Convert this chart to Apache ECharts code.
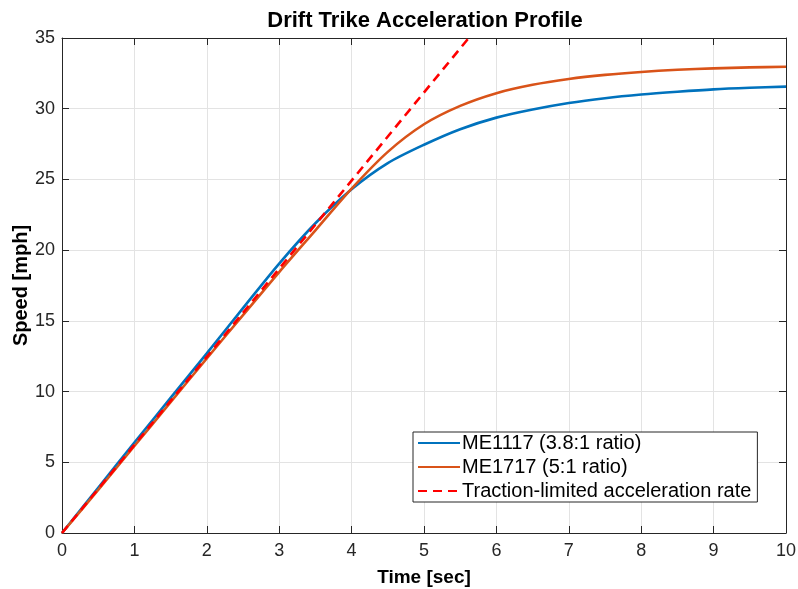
<!DOCTYPE html>
<html>
<head>
<meta charset="utf-8">
<script src="https://cdn.jsdelivr.net/npm/echarts@6/dist/echarts.min.js"></script>
<style>html,body{margin:0;padding:0;background:#fff}#c{width:798px;height:589px}</style>
</head>
<body>
<div id="c"></div>
<script>
const timeSec = [0,0.5,1,1.5,2,2.5,3,3.5,4,4.5,5,5.5,6,6.5,7,7.5,8,8.5,9,9.5,10];
const me1117 = [0,3.2,6.4,9.55,12.7,15.9,19.05,21.9,24.3,26.15,27.45,28.55,29.37,29.94,30.4,30.74,31.0,31.2,31.37,31.48,31.56];
const me1717 = [0,3.05,6.15,9.25,12.35,15.4,18.45,21.4,24.35,26.95,28.9,30.2,31.1,31.69,32.1,32.39,32.6,32.75,32.85,32.92,32.97];
const tractionTime = [0,10];
const tractionSpeed = [0,62.3];
const seriesNames = ['ME1117 (3.8:1 ratio)','ME1717 (5:1 ratio)','Traction-limited acceleration rate'];
const titleText = 'Drift Trike Acceleration Profile';
const xName = 'Time [sec]';
const yName = 'Speed [mph]';

const font = 'Liberation Sans, Arial, Helvetica, sans-serif';
const axisCol = '#262626';
const gridCol = '#e3e3e3';
const zip = (a,b) => a.map((v,i)=>[v,b[i]]);

const chart = echarts.init(document.getElementById('c'), null, {renderer:'canvas'});
const baseX = {type:'value', min:0, max:10, interval:1};
const baseY = {type:'value', min:0, max:35, interval:5};
chart.setOption({
  animation:false,
  backgroundColor:'#fff',
  title:{text:titleText, left:420, top:5, textAlign:'center',
    textStyle:{fontFamily:font, fontSize:22, fontWeight:'bold', color:'#000'}},
  grid:{left:62, right:12, top:38, bottom:56, containLabel:false, outerBoundsMode:'none'},
  legend:{
    orient:'vertical', left:413, top:432, width:340,
    itemWidth:42, itemHeight:14, itemGap:4,
    itemStyle:{opacity:0},
    padding:[1,6,1,4],
    borderColor:axisCol, borderWidth:1, backgroundColor:'#fff',
    textStyle:{fontFamily:font, fontSize:20, color:'#000', padding:[0,0,0,-3]},
    data:seriesNames
  },
  xAxis:[
    Object.assign({}, baseX, {position:'bottom', name:xName, nameLocation:'middle', nameGap:35,
      nameMoveOverlap:false,
      nameTextStyle:{fontFamily:font, fontSize:19, fontWeight:'bold', color:'#000'},
      axisLine:{show:true, onZero:false, lineStyle:{color:axisCol, width:1}},
      axisTick:{show:true, inside:true, length:7, lineStyle:{color:axisCol}},
      axisLabel:{fontFamily:font, fontSize:18, color:'#262626', margin:9},
      splitLine:{show:true, lineStyle:{color:gridCol, width:1}}}),
    Object.assign({}, baseX, {position:'top',
      axisLine:{show:true, onZero:false, lineStyle:{color:axisCol, width:1}},
      axisTick:{show:true, inside:true, length:7, lineStyle:{color:axisCol}},
      axisLabel:{show:false}, splitLine:{show:false}})
  ],
  yAxis:[
    Object.assign({}, baseY, {position:'left', name:yName, nameLocation:'middle', nameGap:31,
      nameMoveOverlap:false,
      nameTextStyle:{fontFamily:font, fontSize:20, fontWeight:'bold', color:'#000'},
      axisLine:{show:true, onZero:false, lineStyle:{color:axisCol, width:1}},
      axisTick:{show:true, inside:true, length:7, lineStyle:{color:axisCol}},
      axisLabel:{fontFamily:font, fontSize:18, color:'#262626', margin:7},
      splitLine:{show:true, lineStyle:{color:gridCol, width:1}}}),
    Object.assign({}, baseY, {position:'right',
      axisLine:{show:true, onZero:false, lineStyle:{color:axisCol, width:1}},
      axisTick:{show:true, inside:true, length:7, lineStyle:{color:axisCol}},
      axisLabel:{show:false}, splitLine:{show:false}})
  ],
  series:[
    {name:seriesNames[0], type:'line', data:zip(timeSec, me1117), smooth:0.3, symbol:'none',
      clip:true, lineStyle:{color:'#0072BD', width:2.6}, itemStyle:{color:'#0072BD'}, z:3},
    {name:seriesNames[1], type:'line', data:zip(timeSec, me1717), smooth:0.3, symbol:'none',
      clip:true, lineStyle:{color:'#D95319', width:2.6}, itemStyle:{color:'#D95319'}, z:4},
    {name:seriesNames[2], type:'line', data:zip(tractionTime, tractionSpeed), symbol:'none',
      clip:true, lineStyle:{color:'#FF0000', width:2.6, type:[9,6]}, itemStyle:{color:'#FF0000'}, z:5}
  ]
});
</script>
</body>
</html>
